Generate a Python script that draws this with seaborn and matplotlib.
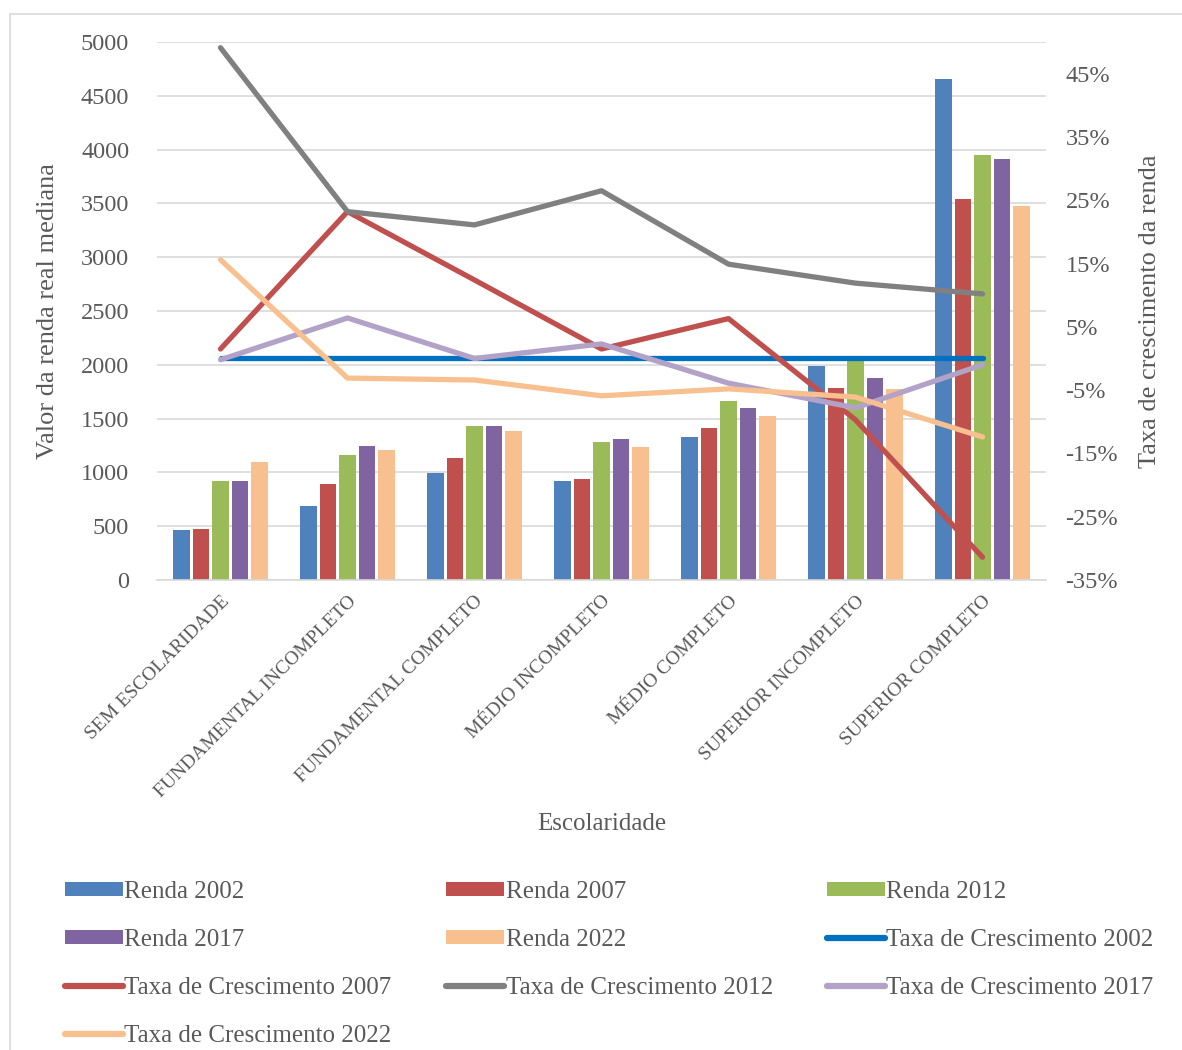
import numpy as np
import pandas as pd
import matplotlib
matplotlib.use("Agg")
import matplotlib.pyplot as plt
import seaborn as sns
from matplotlib.patches import Patch, Rectangle
from matplotlib.lines import Line2D
from matplotlib.ticker import FuncFormatter

# --- dados ---
categorias = ["SEM ESCOLARIDADE", "FUNDAMENTAL INCOMPLETO", "FUNDAMENTAL COMPLETO",
              "MÉDIO INCOMPLETO", "MÉDIO COMPLETO", "SUPERIOR INCOMPLETO", "SUPERIOR COMPLETO"]
anos = ["2002", "2007", "2012", "2017", "2022"]

renda_2002 = [465, 688, 994, 920, 1329, 1989, 4656]
renda_2007 = [475, 892, 1134, 939, 1413, 1784, 3541]
renda_2012 = [920, 1162, 1431, 1283, 1664, 2045, 3950]
renda_2017 = [920, 1245, 1431, 1310, 1599, 1877, 3913]
renda_2022 = [1097, 1208, 1385, 1236, 1524, 1775, 3476]

taxa_2002 = [0.0, 0.0, 0.0, 0.0, 0.0, 0.0, 0.0]
taxa_2007 = [0.015, 0.232, 0.124, 0.015, 0.063, -0.097, -0.314]
taxa_2012 = [0.491, 0.232, 0.211, 0.265, 0.149, 0.119, 0.102]
taxa_2017 = [-0.002, 0.064, 0.0, 0.023, -0.039, -0.078, -0.010]
taxa_2022 = [0.156, -0.031, -0.034, -0.059, -0.048, -0.061, -0.124]

cores_barra = ["#4f81bd", "#c0504d", "#9bbb59", "#8064a2", "#f9c08f"]
cores_linha = ["#0070c0", "#c0504d", "#808080", "#b3a2c7", "#f9c08f"]
cinza_txt = "#595959"

rendas = [renda_2002, renda_2007, renda_2012, renda_2017, renda_2022]
taxas = [taxa_2002, taxa_2007, taxa_2012, taxa_2017, taxa_2022]

df = pd.DataFrame({
    "Escolaridade": categorias * len(anos),
    "Ano": np.repeat(["Renda " + a for a in anos], len(categorias)),
    "Renda": np.concatenate(rendas),
})

sns.set_theme(style="white")
plt.rcParams["font.family"] = ["Liberation Serif", "DejaVu Serif"]
plt.rcParams["text.color"] = cinza_txt

fig = plt.figure(figsize=(11.82, 10.5), dpi=100)
# moldura do gráfico (só borda esquerda e superior visíveis)
fig.patches.append(Rectangle((10 / 1182, -0.05), 1.05, 1.05 - 14 / 1050, transform=fig.transFigure,
                             fill=False, edgecolor="#d9d9d9", linewidth=1.2))
ax = fig.add_axes([157 / 1182, 1 - 580 / 1050, 889 / 1182, 538 / 1050])

sns.barplot(data=df, x="Escolaridade", y="Renda", hue="Ano", palette=cores_barra,
            width=0.77, gap=0.16, ax=ax, legend=False, saturation=1, edgecolor="none")

ax.set_ylim(0, 5000)
ax.set_yticks(range(0, 5001, 500))
ax.set_xlim(-0.5, len(categorias) - 0.5)
ax.yaxis.grid(True, color="#d9d9d9", linewidth=1.2)
ax.set_axisbelow(True)
for s in ["top", "right", "left"]:
    ax.spines[s].set_visible(False)
ax.spines["bottom"].set_color("#d9d9d9")
ax.spines["bottom"].set_linewidth(1.2)
ax.tick_params(axis="y", labelsize=17.5, colors=cinza_txt, length=0, pad=20)
ax.tick_params(axis="x", labelsize=14, colors=cinza_txt, length=0, pad=9)
ax.set_xticks(range(len(categorias)))
ax.set_xticklabels(categorias, rotation=45, ha="right", rotation_mode="anchor")
ax.set_ylabel("Valor da renda real mediana", fontsize=19, color=cinza_txt)
ax.yaxis.set_label_coords(-0.11, 0.5)
ax.set_xlabel("Escolaridade", fontsize=18, color=cinza_txt)
ax.xaxis.set_label_coords(0.5, -0.433)

ax2 = ax.twinx()
x_pos = np.arange(len(categorias))
for ano, t, c in zip(anos, taxas, cores_linha):
    sns.lineplot(x=x_pos, y=t, color=c, linewidth=3.8, ax=ax2, legend=False,
                 solid_capstyle="round")
ax2.set_ylim(-0.35, 0.50)
ax2.set_yticks(np.arange(-0.35, 0.46, 0.10))
ax2.yaxis.set_major_formatter(FuncFormatter(lambda v, p: f"{v * 100:.0f}%"))
ax2.tick_params(axis="y", labelsize=17.5, colors=cinza_txt, length=0, pad=14)
ax2.grid(False)
for s in ax2.spines.values():
    s.set_visible(False)
ax2.set_ylabel("Taxa de crescimento da renda", fontsize=19, color=cinza_txt)
ax2.yaxis.set_label_coords(1.105, 0.5)

# legenda em 3 colunas (ordem por linha como no original)
itens = [(Patch(facecolor=c, edgecolor="none"), "Renda " + a) for a, c in zip(anos, cores_barra)]
itens += [(Line2D([0], [0], color=c, linewidth=4.5, solid_capstyle="round"), "Taxa de Crescimento " + a)
          for a, c in zip(anos, cores_linha)]
ordem = [0, 3, 6, 9, 1, 4, 7, 2, 5, 8]
fig.legend([itens[i][0] for i in ordem], [itens[i][1] for i in ordem],
           loc="upper left", bbox_to_anchor=(42 / 1182, 1 - 858 / 1050), ncol=3,
           frameon=False, fontsize=18, handlelength=2.35, handleheight=0.5,
           handletextpad=0.05, columnspacing=2.15, labelspacing=1.05,
           labelcolor=cinza_txt)

fig.savefig("out.png", dpi=100)
